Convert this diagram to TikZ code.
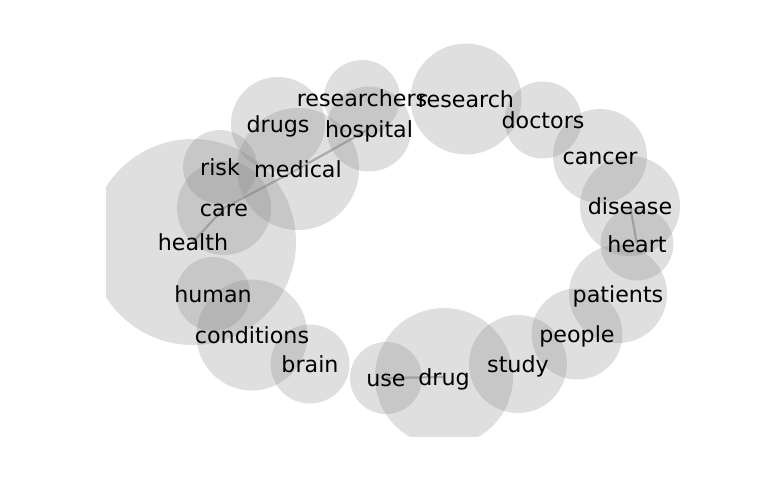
\documentclass[tikz,border=0pt]{standalone}
\usepackage{fontspec}
\setmainfont{DejaVu Sans}
\pgfdeclarelayer{bg}
\pgfdeclarelayer{mid}
\pgfsetlayers{bg,mid,main}
\begin{document}
\begin{tikzpicture}[x=1bp,y=-1bp,
  bubble/.style={fill=gray, fill opacity=0.25},
  link/.style={draw=gray, draw opacity=0.55, line width=2.2bp},
  word/.style={font=\fontsize{22.2bp}{26bp}\selectfont, text height=22.9bp, text depth=5.2bp, inner sep=0pt}]
\useasboundingbox (0,0) rectangle (768,500);
% words
\node[word] (health) at (193,242) {health};
\node[word] (care) at (224,208) {care};
\node[word] (risk) at (220,167) {risk};
\node[word] (medical) at (298,169) {medical};
\node[word] (drugs) at (278,124) {drugs};
\node[word] (researchers) at (362,98) {researchers};
\node[word] (hospital) at (369,129) {hospital};
\node[word] (research) at (466,99) {research};
\node[word] (doctors) at (543,120) {doctors};
\node[word] (cancer) at (600,156) {cancer};
\node[word] (disease) at (630,206) {disease};
\node[word] (heart) at (637,244) {heart};
\node[word] (patients) at (618,294) {patients};
\node[word] (people) at (577,334) {people};
\node[word] (study) at (518,364) {study};
\node[word] (drug) at (444,377) {drug};
\node[word] (use) at (386,378) {use};
\node[word] (brain) at (310,364) {brain};
\node[word] (conditions) at (252,335) {conditions};
\node[word] (human) at (213,294) {human};
% circles
\begin{pgfonlayer}{bg}
\begin{scope}
\clip (106,0) rectangle (768,436);
\fill[bubble] (health) circle (103);
\fill[bubble] (care) circle (47);
\fill[bubble] (risk) circle (37);
\fill[bubble] (medical) circle (61);
\fill[bubble] (drugs) circle (47);
\fill[bubble] (researchers) circle (38);
\fill[bubble] (hospital) circle (42.5);
\fill[bubble] (research) circle (55.5);
\fill[bubble] (doctors) circle (38.5);
\fill[bubble] (cancer) circle (47);
\fill[bubble] (disease) circle (50);
\fill[bubble] (heart) circle (36.5);
\fill[bubble] (patients) circle (49);
\fill[bubble] (people) circle (45.5);
\fill[bubble] (study) circle (49);
\fill[bubble] (drug) circle (69);
\fill[bubble] (use) circle (36);
\fill[bubble] (brain) circle (39.5);
\fill[bubble] (conditions) circle (55.5);
\fill[bubble] (human) circle (37);
\end{scope}
\end{pgfonlayer}
% links
\begin{pgfonlayer}{mid}
\draw[link] (health.center) -- (care.center) -- (medical.center) -- (hospital.center);
\draw[link] (disease.center) -- (heart.center);
\draw[link] (use.center) -- (drug.center);
\end{pgfonlayer}
\end{tikzpicture}
\end{document}
